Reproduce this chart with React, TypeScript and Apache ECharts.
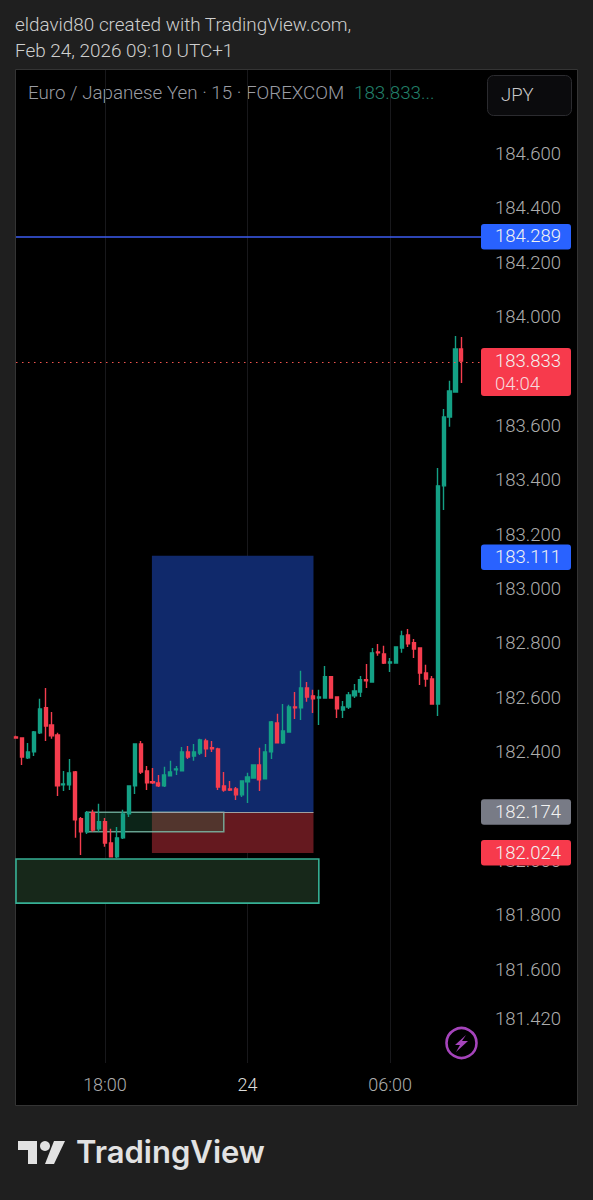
import React, { useEffect, useRef } from "react";
import * as echarts from "echarts";

// Bars are counted in 15-minute steps from 18:00 on Feb 23, 2026.
const FIRST_BAR = -15;

const opens = [182.451,182.447,182.374,182.396,182.466,182.558,182.495,182.458,182.275,182.275,182.322,182.150,182.102,182.172,182.113,182.139,182.061,182.010,182.080,182.168,182.271,182.425,182.326,182.286,182.282,182.271,182.308,182.330,182.326,182.396,182.381,182.392,182.436,182.411,182.407,182.271,182.260,182.260,182.238,182.286,182.300,182.348,182.297,182.396,182.502,182.429,182.469,182.561,182.558,182.631,182.602,182.594,182.594,182.672,182.598,182.550,182.561,182.602,182.616,182.661,182.653,182.763,182.756,182.723,182.723,182.778,182.826,182.797,182.778,182.686,182.664,182.572,183.374,183.627,183.719,183.877];
const closes = [182.447,182.377,182.396,182.469,182.554,182.491,182.455,182.271,182.278,182.319,182.146,182.102,182.172,182.109,182.139,182.061,182.010,182.080,182.168,182.271,182.425,182.322,182.282,182.282,182.271,182.311,182.322,182.333,182.396,182.377,182.396,182.440,182.407,182.407,182.267,182.256,182.256,182.238,182.289,182.304,182.348,182.293,182.396,182.506,182.429,182.473,182.561,182.558,182.631,182.598,182.591,182.598,182.672,182.594,182.554,182.561,182.605,182.620,182.661,182.657,182.760,182.760,182.723,182.727,182.782,182.822,182.793,182.774,182.686,182.664,182.572,183.374,183.627,183.723,183.877,183.833];
const lows = [182.444,182.348,182.370,182.381,182.462,182.436,182.444,182.234,182.252,182.256,182.080,182.017,182.094,182.102,182.102,182.047,182.010,182.006,182.076,182.157,182.241,182.315,182.256,182.278,182.267,182.267,182.308,182.311,182.326,182.370,182.363,182.385,182.377,182.396,182.256,182.249,182.252,182.219,182.230,182.208,182.297,182.252,182.297,182.370,182.429,182.425,182.469,182.517,182.513,182.580,182.539,182.495,182.594,182.594,182.521,182.521,182.554,182.594,182.598,182.631,182.653,182.749,182.719,182.690,182.723,182.760,182.782,182.741,182.642,182.635,182.569,182.528,183.285,183.591,183.716,183.752];
const highs = [182.455,182.447,182.429,182.473,182.591,182.631,182.543,182.466,182.326,182.370,182.326,182.157,182.179,182.183,182.205,182.153,182.113,182.120,182.183,182.271,182.425,182.436,182.344,182.337,182.311,182.341,182.363,182.344,182.414,182.418,182.425,182.444,182.444,182.436,182.411,182.322,182.289,182.267,182.289,182.319,182.348,182.411,182.425,182.510,182.536,182.572,182.569,182.616,182.694,182.653,182.624,182.624,182.712,182.675,182.598,182.583,182.616,182.646,182.675,182.719,182.778,182.793,182.786,182.741,182.782,182.841,182.848,182.811,182.778,182.716,182.675,183.440,183.657,183.760,183.925,183.921];

// 183.800 and 182.200 sit fully behind price tags in the reference.
const priceTicks = [184.6,184.4,184.2,184.0,183.6,183.4,183.2,183.0,182.8,182.6,182.4,182.0,181.8,181.6,181.42];
const timeTickLabels = ["18:00", "24", "06:00"];
const timeTicks = [0, 24, 48];

const tagPrices = [184.289, 183.833, 183.111, 182.174, 182.024];
const tagTexts = ["184.289", "183.833", "183.111", "182.174", "182.024"];
const tagCountdowns = ["", "04:04", "", "", ""];
const tagColors = ["#2962ff", "#f73a4c", "#2962ff", "#787b86", "#f73a4c"];

const X_MIN = -14.98;
const X_MAX = 63.3;
const positionStart = 7.9;
const positionEnd = 35.1;
const targetPrice = 183.117;
const entryPrice = 182.174;
const stopPrice = 182.024;
const zoneLow = [181.84, 182.102];
const zoneHigh = [182.002, 182.174];
const zoneStart = [X_MIN, -3];
const zoneEnd = [36, 20];

const FONT = "Roboto, sans-serif";

export default function App() {
  const ref = useRef<HTMLDivElement>(null);
  useEffect(() => {
    document.body.style.margin = "0";
    document.body.style.background = "#1f1f1f";
    const chart = echarts.init(ref.current!, null, { renderer: "svg" });
    const data = opens.map((o, i) => [FIRST_BAR + i, o, closes[i], lows[i], highs[i]]);
    chart.setOption({
      animation: false,
      backgroundColor: "#1f1f1f",
      grid: { left: 16, right: 112, top: 70, height: 993, containLabel: false },
      xAxis: {
        type: "value",
        min: X_MIN,
        max: X_MAX,
        axisLine: { show: false },
        axisTick: { show: false, customValues: timeTicks },
        splitLine: { show: true, showMinLine: true, showMaxLine: true, lineStyle: { color: "#18181b", width: 1 } },
        axisLabel: {
          customValues: timeTicks,
          margin: 12,
          fontFamily: FONT,
          fontSize: 18,
          fontWeight: 300,
          color: (_v: any, i: number) => (i === 1 ? "#dcdcdc" : "#adadad"),
          formatter: (v: number) => timeTickLabels[timeTicks.indexOf(v)] ?? "",
        },
      },
      yAxis: {
        type: "value",
        position: "right",
        min: 181.2522,
        max: 184.9029,
        axisLine: { show: false },
        axisTick: { show: false, customValues: priceTicks },
        splitLine: { show: false },
        axisLabel: {
          customValues: priceTicks,
          margin: 14,
          formatter: (v: number) => `{p|${v.toFixed(3)}}`,
          rich: {
            p: {
              padding: [3, 0, 0, 0],
              color: "#adadad",
              fontFamily: FONT,
              fontSize: 18.5,
              fontWeight: 300,
            },
          },
        },
      },
      graphic: [
        { type: "rect", z: -5, shape: { x: 15.5, y: 69.5, width: 562, height: 1036 }, style: { fill: "#000", stroke: "#343434", lineWidth: 1 } },
        { type: "text", x: 15, y: 15, style: { text: "eldavid80 created with TradingView.com,", fill: "#cfcfcf", font: `300 18.9px ${FONT}` } },
        { type: "text", x: 15, y: 41, style: { text: "Feb 24, 2026 09:10 UTC+1", fill: "#cfcfcf", font: `300 18.9px ${FONT}` } },
        { type: "text", x: 28, y: 83, style: { text: "Euro / Japanese Yen · 15 · FOREXCOM", fill: "#9a9ca3", font: `300 18.8px ${FONT}` } },
        { type: "text", x: 354, y: 83, style: { text: "183.833...", fill: "#22806b", font: `300 18.8px ${FONT}` } },
        { type: "rect", shape: { x: 487.5, y: 75.5, width: 84, height: 40, r: 6 }, style: { fill: "#0b0b0d", stroke: "#2b2b2f", lineWidth: 1 } },
        { type: "text", x: 501, y: 85, style: { text: "JPY", fill: "#c8c8c8", font: `300 18.5px ${FONT}` } },
        { type: "circle", shape: { cx: 461.5, cy: 1043, r: 15 }, style: { fill: "transparent", stroke: "#a544bb", lineWidth: 2.6 } },
        { type: "polygon", shape: { points: [[466, 1035], [455, 1045], [460, 1045], [456, 1052], [468, 1041], [462, 1041]] }, style: { fill: "#a544bb" } },
        { type: "polygon", shape: { points: [[18, 1141], [37, 1141], [37, 1164], [28, 1164], [28, 1150], [18, 1150]] }, style: { fill: "#e2e2e2" } },
        { type: "circle", shape: { cx: 45, cy: 1146, r: 5 }, style: { fill: "#e2e2e2" } },
        { type: "polygon", shape: { points: [[54, 1141], [65, 1141], [54, 1164], [45, 1164]] }, style: { fill: "#e2e2e2" } },
        { type: "text", x: 76, y: 1136, style: { text: "TradingView", fill: "#e2e2e2", font: `600 31px Inter, ${FONT}` } },
      ],
      series: [
        {
          type: "candlestick",
          z: 3,
          barWidth: 3.6,
          clip: true,
          itemStyle: {
            color: "#14a085",
            color0: "#f53d4e",
            borderColor: "#14a085",
            borderColor0: "#f53d4e",
            borderColorDoji: "#14a085",
            borderWidth: 1.4,
          },
          data,
          markArea: {
            silent: true,
            z: 1,
            data: [
              [
                { coord: [positionStart, targetPrice], itemStyle: { color: "#10296b" } },
                { coord: [positionEnd, entryPrice] },
              ],
              [
                { coord: [positionStart, entryPrice], itemStyle: { color: "#65191f" } },
                { coord: [positionEnd, stopPrice] },
              ],
              [
                { coord: [zoneStart[0], zoneHigh[0]], itemStyle: { color: "#17281a", borderColor: "#36b095", borderWidth: 1.6 } },
                { coord: [zoneEnd[0], zoneLow[0]] },
              ],
              [
                { coord: [zoneStart[1], zoneHigh[1]], itemStyle: { color: "rgba(40,120,80,0.3)", borderColor: "rgba(125,195,175,0.8)", borderWidth: 1.5 } },
                { coord: [zoneEnd[1], zoneLow[1]] },
              ],
            ],
          },
          markLine: {
            silent: true,
            symbol: "none",
            label: { show: false },
            data: [
              { yAxis: tagPrices[0], lineStyle: { color: "#3c5cf0", width: 1.5, type: "solid" } },
              { yAxis: tagPrices[1], lineStyle: { color: "#f2564f", width: 1, type: [1.5, 4.5] } },
              [
                { coord: [positionStart, entryPrice], lineStyle: { color: "#a0a0a0", width: 1.2, type: "solid" } },
                { coord: [positionEnd, entryPrice] },
              ],
            ],
          },
        },
        {
          type: "custom",
          z: 10,
          clip: false,
          data: tagPrices.map((p, i) => [X_MAX, p, i]),
          encode: { x: 0, y: 1 },
          renderItem: (params: any, api: any) => {
            const i = api.value(2);
            const y = api.coord([api.value(0), api.value(1)])[1];
            const extra = tagCountdowns[i] ? 22.5 : 0;
            const children: any[] = [
              { type: "rect", shape: { x: 481, y: y - 13, width: 90, height: 25.5 + extra, r: 3 }, style: { fill: tagColors[i] } },
              { type: "text", x: 495, y: y - 10, style: { text: tagTexts[i], fill: "#f2f2f2", font: `300 18.5px ${FONT}` } },
            ];
            if (extra) {
              children.push({ type: "text", x: 495, y: y + 13, style: { text: tagCountdowns[i], fill: "#f7d9dc", font: `300 18.5px ${FONT}` } });
            }
            return { type: "group", children };
          },
        },
      ],
    });
    return () => chart.dispose();
  }, []);
  return <div ref={ref} style={{ width: 593, height: 1200 }} />;
}
